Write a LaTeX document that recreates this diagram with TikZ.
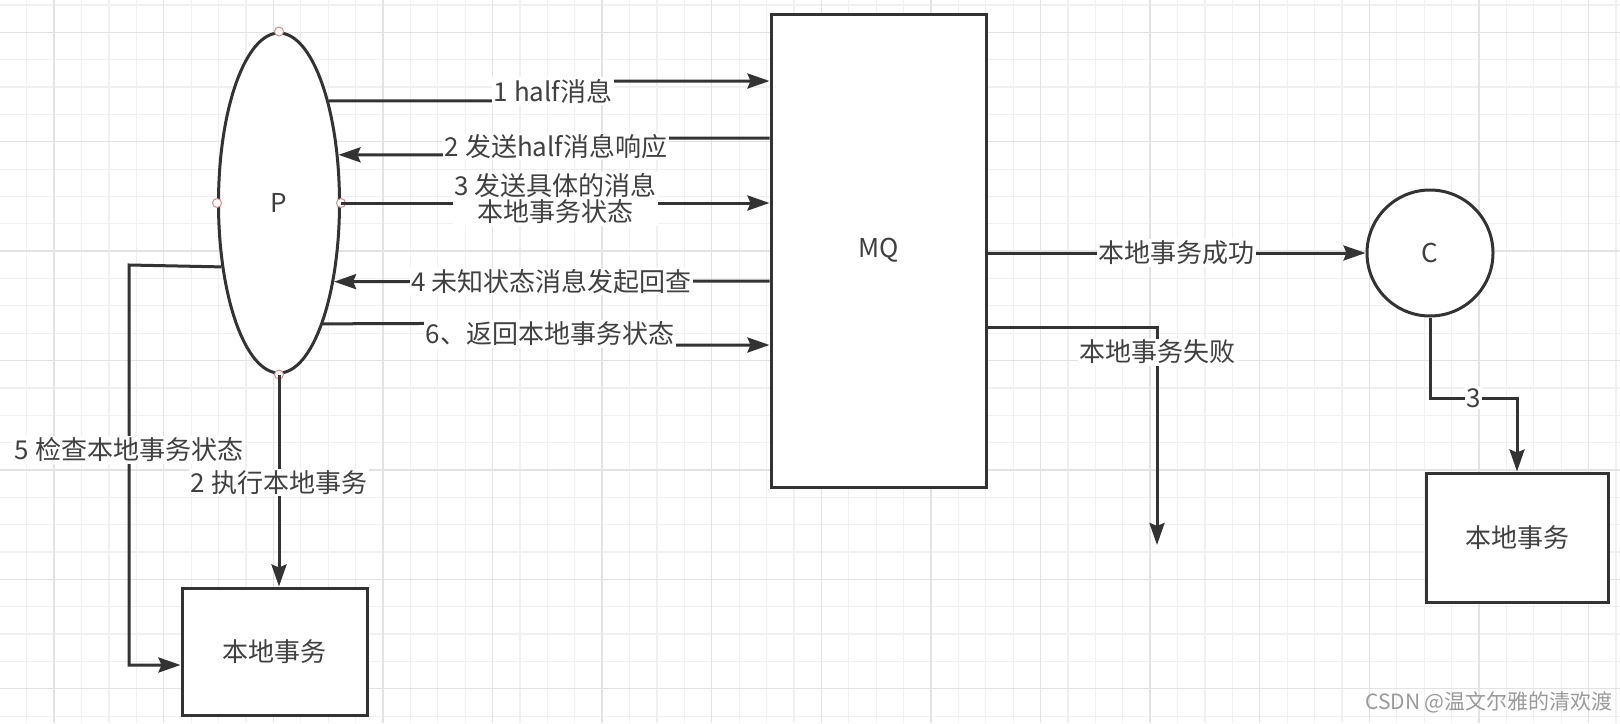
\documentclass[tikz,border=0pt]{standalone}
\usepackage{fontspec}
\setmainfont{Noto Sans CJK SC}
\usetikzlibrary{arrows.meta,shapes.geometric}
\definecolor{ln}{HTML}{333333}
\definecolor{tx}{HTML}{404040}
\definecolor{gridminor}{HTML}{F0F0F0}
\definecolor{gridmajor}{HTML}{E3E3E3}
\definecolor{dotc}{HTML}{D98C8C}
\definecolor{wm}{HTML}{9A9A9A}
\newcommand{\lbfont}{\fontsize{26}{26}\selectfont}
\tikzset{
  boxnode/.style={draw=ln, line width=3pt, fill=white, rectangle, inner sep=0pt, font=\lbfont, text=tx},
  arr/.style={draw=ln, line width=3pt, line join=miter, -{Stealth[length=22pt,width=15pt,inset=3pt]}},
  lbl/.style={fill=white, inner sep=1.5pt, text=tx, font=\lbfont},
  dotnode/.style={circle, draw=dotc, fill=white, line width=1pt, minimum size=9pt, inner sep=0pt},
  gminor/.style={draw=gridminor, line width=1.2pt},
  gmajor/.style={draw=gridmajor, line width=1.4pt},
}
\begin{document}
\begin{tikzpicture}[x=1pt,y=-1pt]
\useasboundingbox (0,0) rectangle (1620,723);
\fill[white] (0,0) rectangle (1620,723);
% grid
\foreach \i in {0,...,58} { \draw[gminor] ({26.7+27.4*\i},0) -- ({26.7+27.4*\i},723); }
\foreach \j in {0,...,26} { \draw[gminor] (0,{5+27.35*\j}) -- (1620,{5+27.35*\j}); }
\foreach \i in {0,...,14} { \draw[gmajor] ({54.1+109.6*\i},0) -- ({54.1+109.6*\i},723); }
\foreach \j in {0,...,6} { \draw[gmajor] (0,{32.35+109.4*\j}) -- (1620,{32.35+109.4*\j}); }

% nodes
\node[ellipse, draw=ln, line width=3pt, fill=white, minimum width=121pt, minimum height=340pt, inner sep=0pt, font=\lbfont, text=tx] (P) at (279,203) {P};
\node[boxnode, minimum width=215pt, minimum height=473pt] (MQ) at (878.5,250.5) {MQ};
\node[circle, draw=ln, line width=3pt, fill=white, minimum size=126pt, inner sep=0pt, font=\lbfont, text=tx] (C) at (1430,253) {C};
\node[boxnode, minimum width=185pt, minimum height=127pt] (LL) at (274.5,651.5) {本地事务};
\node[boxnode, minimum width=182pt, minimum height=129pt] (RL) at (1517,537.5) {本地事务};

\node[dotnode] (dn) at (P.north) {};
\node[dotnode] (ds) at (P.south) {};
\node[dotnode] (dw) at (P.west) {};
\node[dotnode] (de) at (P.east) {};

% P <-> MQ
\draw[arr] (P.64.8) -- (553,101) -- node[lbl]{1 half消息} (553,81) -- (MQ.west |- 0,81);
\draw[arr] (MQ.west |- 0,138) -- (556,138) -- node[lbl]{2 发送half消息响应} (556,155) -- (P.39.9);
\draw[arr] (P.east) -- node[lbl, align=center, yshift=4pt]{3 发送具体的消息\\本地事务状态} (MQ.west |- P.east);
\draw[arr] (MQ.west |- 0,281) -- node[lbl]{4 未知状态消息发起回查} (P.-55.6);
\draw[arr] (P.-70.5) -- (550,323) -- node[lbl]{6、返回本地事务状态} (550,345) -- (MQ.west |- 0,345);

% P -> local
\draw[arr] (P.south) -- node[lbl, pos=0.51]{2 执行本地事务} (P.south |- LL.north);
\draw[arr] (P.-132) -- (129,265) -- node[lbl, pos=0.4625]{5 检查本地事务状态} (129,665) -- (LL.west |- 0,665);

% MQ -> C
\draw[arr] (MQ.east |- C.west) -- node[lbl]{本地事务成功} (C.west);
\coordinate (failend) at (1157,545);
\draw[arr] (MQ.east |- 0,327) -- (failend |- 0,327) -- node[lbl, pos=0.115]{本地事务失败} (failend);

% C -> local
\draw[arr] (C.south) |- node[lbl, pos=0.75]{3} (RL.north |- 0,398) -- (RL.north);

% watermark
\node[text=wm, font=\fontsize{21}{21}\selectfont, inner sep=0pt] (wmk) at (1489,702) {CSDN @温文尔雅的清欢渡};
\end{tikzpicture}
\end{document}
